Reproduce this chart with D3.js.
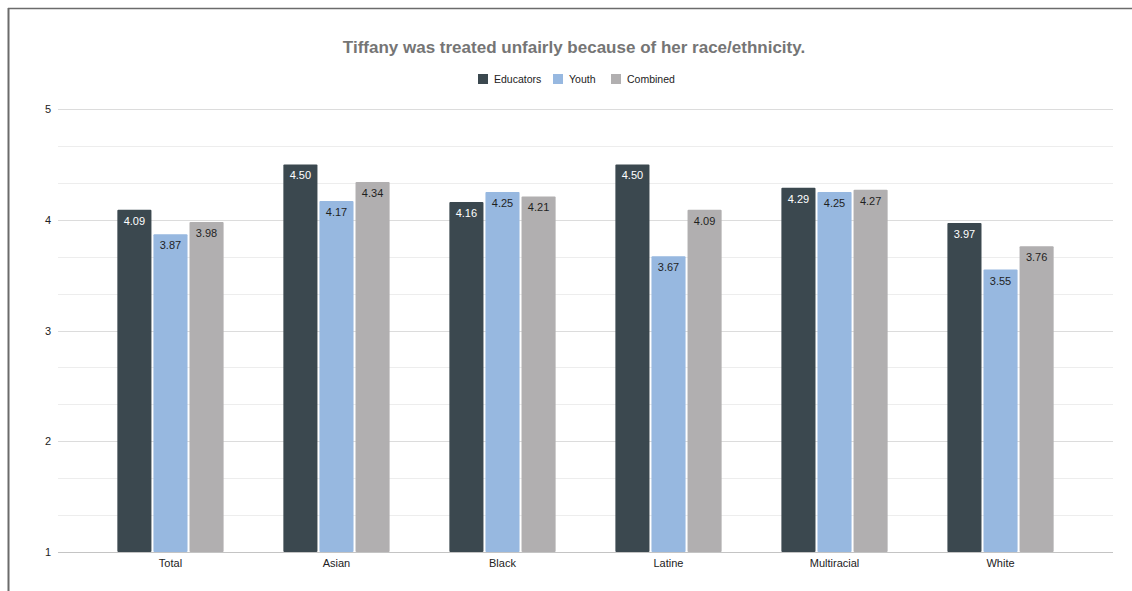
<!DOCTYPE html>
<html>
<head>
<meta charset="utf-8">
<script src="https://cdn.jsdelivr.net/npm/d3@7"></script>
<style>
  html, body { margin: 0; padding: 0; background: #fff; }
  svg { display: block; font-family: "Liberation Sans", Arial, sans-serif; }
</style>
</head>
<body>
<svg id="chart" width="1132" height="591"></svg>
<script>
// Groups along the x axis
const categories = ["Total", "Asian", "Black", "Latine", "Multiracial", "White"];
// Series names
const seriesNames = ["Educators", "Youth", "Combined"];
// Mean agreement per group, one array per series
const educators = [4.09, 4.50, 4.16, 4.50, 4.29, 3.97];
const youth     = [3.87, 4.17, 4.25, 3.67, 4.25, 3.55];
const combined  = [3.98, 4.34, 4.21, 4.09, 4.27, 3.76];
// Y axis ticks
const yTicks = [1, 2, 3, 4, 5];

const seriesValues = [educators, youth, combined];
const colors = ["#3b484f", "#97b8e0", "#b1afb0"];
const labelColors = ["#ffffff", "#1f1f1f", "#1f1f1f"];

const svg = d3.select("#chart");
const W = 1132, H = 591;

// Frame lines on the top and left edges
svg.append("line").attr("x1", 8).attr("x2", W).attr("y1", 8.5).attr("y2", 8.5)
  .attr("stroke", "#6b6b6b").attr("stroke-width", 1.5);
svg.append("line").attr("x1", 8.5).attr("x2", 8.5).attr("y1", 8).attr("y2", H)
  .attr("stroke", "#6b6b6b").attr("stroke-width", 2);

const plotLeft = 58, plotRight = 1113, plotTop = 109, plotBottom = 552;

const x0 = d3.scaleBand().domain(categories).range([plotLeft, plotRight])
  .paddingInner(0.36).paddingOuter(0.3575);
const x1 = d3.scaleBand().domain(seriesNames).range([0, x0.bandwidth()]).paddingInner(0.055);
const y = d3.scaleLinear().domain([1, 5]).range([plotBottom, plotTop]);

// Minor gridlines every third of a unit
const minor = [];
for (let v = 1; v < 5; v++) { minor.push(v + 1/3, v + 2/3); }
svg.append("g").selectAll("line").data(minor).join("line")
  .attr("x1", plotLeft).attr("x2", plotRight)
  .attr("y1", d => Math.round(y(d)) + 0.5).attr("y2", d => Math.round(y(d)) + 0.5)
  .attr("stroke", "#ededed").attr("stroke-width", 1);

// Major gridlines
svg.append("g").selectAll("line").data(yTicks).join("line")
  .attr("x1", plotLeft).attr("x2", plotRight)
  .attr("y1", d => Math.round(y(d)) + 0.5).attr("y2", d => Math.round(y(d)) + 0.5)
  .attr("stroke", d => d === 1 ? "#c4c4c4" : "#dcdcdc").attr("stroke-width", 1);

// Y tick labels
svg.append("g").selectAll("text").data(yTicks).join("text")
  .attr("x", 51).attr("y", d => y(d) + 4)
  .attr("text-anchor", "end").attr("font-size", 11).attr("fill", "#222")
  .text(d => d);

// Bars
const groups = svg.append("g").selectAll("g").data(categories).join("g")
  .attr("transform", d => `translate(${x0(d)},0)`);

groups.each(function(cat, ci) {
  const g = d3.select(this);
  seriesNames.forEach((s, si) => {
    const v = seriesValues[si][ci];
    const bx = x1(s), bw = x1.bandwidth();
    g.append("rect")
      .attr("x", bx).attr("y", y(v))
      .attr("width", bw).attr("height", y(1) - y(v))
      .attr("rx", 1).attr("fill", colors[si]);
    g.append("text")
      .attr("x", bx + bw / 2).attr("y", y(v) + 15)
      .attr("text-anchor", "middle").attr("font-size", 11)
      .attr("fill", labelColors[si])
      .text(v.toFixed(2));
  });
});

// Baseline redrawn over bar bottoms
svg.append("line").attr("x1", plotLeft).attr("x2", plotRight)
  .attr("y1", Math.round(y(1)) + 0.5).attr("y2", Math.round(y(1)) + 0.5)
  .attr("stroke", "#c4c4c4");

// Category labels
svg.append("g").selectAll("text").data(categories).join("text")
  .attr("x", d => x0(d) + x0.bandwidth() / 2).attr("y", 567)
  .attr("text-anchor", "middle").attr("font-size", 11).attr("fill", "#222")
  .text(d => d);

// Title
svg.append("text").attr("x", 574).attr("y", 53)
  .attr("text-anchor", "middle").attr("font-size", 17).attr("font-weight", "bold")
  .attr("fill", "#757575")
  .text("Tiffany was treated unfairly because of her race/ethnicity.");

// Legend
const legendX = [478, 553, 611];
const legend = svg.append("g").selectAll("g").data(seriesNames).join("g")
  .attr("transform", (d, i) => `translate(${legendX[i]},74)`);
legend.append("rect").attr("width", 10).attr("height", 10).attr("fill", (d, i) => colors[i]);
legend.append("text").attr("x", 16).attr("y", 9).attr("font-size", 10.5).attr("fill", "#222")
  .text(d => d);
</script>
</body>
</html>
